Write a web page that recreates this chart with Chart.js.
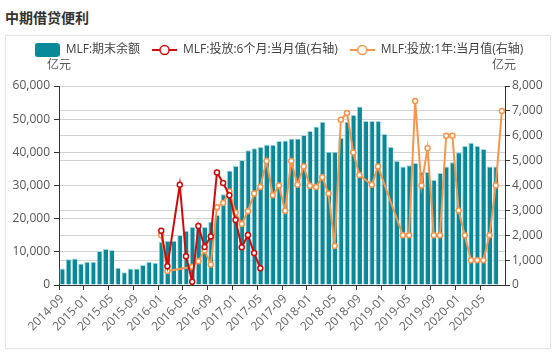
<!DOCTYPE html>
<html><head><meta charset="utf-8">
<script src="https://cdn.jsdelivr.net/npm/chart.js@4.4.1/dist/chart.umd.min.js"></script>
<style>
html,body{margin:0;padding:0;background:#fff;width:558px;height:353px;overflow:hidden;font-family:'Open Sans','Noto Sans CJK SC',sans-serif;}
#title{position:absolute;left:5px;top:9px;font-size:14px;font-weight:bold;color:#333;line-height:16px;font-family:'Noto Sans CJK SC',sans-serif;}
#card{position:absolute;left:5px;top:35px;width:544px;height:312px;border:1px solid #e6e6e6;box-shadow:0 0 2px rgba(0,0,0,0.05);}
.unit{position:absolute;top:56px;width:40px;text-align:center;font-size:12px;color:#555;line-height:16px;font-family:'Noto Sans CJK SC',sans-serif;}
canvas{position:absolute;left:0;top:0;}
</style></head>
<body>
<div id="title">中期借贷便利</div>
<div id="card"></div>
<canvas id="c" width="558" height="353"></canvas>
<div class="unit" style="left:39px">亿元</div>
<div class="unit" style="left:484px">亿元</div>
<script>
const months = [
 '2014-09','2014-10','2014-11','2014-12',
 '2015-01','2015-02','2015-03','2015-04','2015-05','2015-06','2015-07','2015-08','2015-09','2015-10','2015-11','2015-12',
 '2016-01','2016-02','2016-03','2016-04','2016-05','2016-06','2016-07','2016-08','2016-09','2016-10','2016-11','2016-12',
 '2017-01','2017-02','2017-03','2017-04','2017-05','2017-06','2017-07','2017-08','2017-09','2017-10','2017-11','2017-12',
 '2018-01','2018-02','2018-03','2018-04','2018-05','2018-06','2018-07','2018-08','2018-09','2018-10','2018-11','2018-12',
 '2019-01','2019-02','2019-03','2019-04','2019-05','2019-06','2019-07','2019-08','2019-09','2019-10','2019-11','2019-12',
 '2020-01','2020-02','2020-03','2020-04','2020-05','2020-06','2020-07','2020-08'
];
const seriesNames = ['MLF:期末余额','MLF:投放:6个月:当月值(右轴)','MLF:投放:1年:当月值(右轴)'];
const balance = [
 5000,7800,8000,6450,
 7000,7000,10250,10850,10550,5200,3850,5000,5000,6000,7000,6700,
 13050,13350,13350,15050,16350,17500,17500,17500,19100,21100,27350,34550,
 35900,37700,40600,41200,41600,42300,42300,43400,43600,44200,44200,45200,
 46400,47800,49250,40200,40200,44400,49250,51250,53850,49450,49450,49450,
 45550,41600,37400,35700,36100,36800,34050,34050,31650,33750,35700,37000,
 40000,41900,42900,41900,41000,35700,35700,null
];
const mlf6m = [
 null,null,null,null,
 null,null,null,null,null,null,null,null,null,null,null,null,
 2180,750,null,4030,1160,130,2375,1525,1950,4525,4100,3610,
 2615,1515,2010,1285,675,null,null,null,null,null,null,null,
 null,null,null,null,null,null,null,null,null,null,null,null,
 null,null,null,null,null,null,null,null,null,null,null,null,
 null,null,null,null,null,null,null,null
];
const mlf1y = [
 null,null,null,null,
 null,null,null,null,null,null,null,null,null,null,null,null,
 2000,560,null,null,null,730,955,1390,820,3125,3300,3755,
 2905,2455,2960,3675,3940,4985,3605,3995,2985,4985,4030,4765,
 3985,3935,4330,3680,1570,6645,6915,5330,4420,null,4030,4760,
 null,null,null,2000,2000,7400,4000,5500,2000,2000,6000,6000,
 3000,2000,1000,1000,1000,2000,4000,7000
];
const leftTicks = {min:0,max:60000,step:10000};
const rightTicks = {min:0,max:8000,step:1000};

const TEAL='#08899a', RED='#d20a0a', ORANGE='#f7954a';
const FONT="'Open Sans','Noto Sans CJK SC',sans-serif";

function makeIcon(type,color){
  const c=document.createElement('canvas');
  const g=c.getContext('2d');
  if(type==='bar'){
    c.width=25;c.height=14;
    g.fillStyle=color;g.beginPath();
    if(g.roundRect){g.roundRect(0,0,25,14,3);}else{g.rect(0,0,25,14);}
    g.fill();
  }else{
    c.width=25;c.height=12;
    g.strokeStyle=color;g.lineWidth=2;
    g.beginPath();g.moveTo(0,6);g.lineTo(25,6);g.stroke();
    g.beginPath();g.arc(12.5,6,4.5,0,Math.PI*2);g.fillStyle='#fff';g.fill();
    g.lineWidth=1.5;g.stroke();
  }
  return c;
}
const icons=[makeIcon('bar',TEAL),makeIcon('line',RED),makeIcon('line',ORANGE)];

const fmt=v=>Number(v).toLocaleString('en-US');

new Chart(document.getElementById('c'),{
  data:{
    labels:months,
    datasets:[
      {type:'bar',label:seriesNames[0],data:balance,yAxisID:'y',backgroundColor:TEAL,
       borderColor:'#9fd5dc',borderWidth:{left:1,top:1,right:0,bottom:0},borderSkipped:false,
       barPercentage:0.82,categoryPercentage:1.0,order:3},
      {type:'line',label:seriesNames[1],data:mlf6m,yAxisID:'y1',borderColor:RED,borderWidth:2,
       pointRadius:2.5,pointBorderWidth:1.5,pointBackgroundColor:'#fff',pointBorderColor:RED,
       spanGaps:true,tension:0,order:1},
      {type:'line',label:seriesNames[2],data:mlf1y,yAxisID:'y1',borderColor:ORANGE,borderWidth:2,
       pointRadius:2.5,pointBorderWidth:1.5,pointBackgroundColor:'#fff',pointBorderColor:ORANGE,
       spanGaps:true,tension:0,order:2}
    ]
  },
  options:{
    responsive:false,animation:false,devicePixelRatio:1,
    layout:{padding:{top:32,left:0,right:0,bottom:0}},
    plugins:{
      tooltip:{enabled:false},
      legend:{display:true,position:'top',
        labels:{usePointStyle:true,pointStyleWidth:25,padding:12,color:'#444',
          font:{size:12,family:FONT},
          sort:(a,b)=>a.datasetIndex-b.datasetIndex,
          generateLabels:function(chart){
            const items=Chart.defaults.plugins.legend.labels.generateLabels(chart);
            items.forEach(it=>{it.pointStyle=icons[it.datasetIndex];it.fontColor='#444';});
            return items;
          }}},
      subtitle:{display:true,text:' ',position:'top',weight:500,font:{size:10,lineHeight:1},padding:{top:0,bottom:10}}
    },
    scales:{
      x:{type:'category',offset:true,
        grid:{offset:true,drawOnChartArea:false,drawTicks:true,tickLength:5,
          tickColor:(ctx)=> (ctx.index%4===0)?'#333':'rgba(0,0,0,0)'},
        border:{color:'#333',width:1},
        ticks:{autoSkip:false,maxRotation:45,minRotation:45,color:'#666',padding:2,
          font:{size:12,family:FONT},
          callback:function(v,i){return i%4===0?this.getLabelForValue(v):'';}},
        afterFit:(s)=>{s.height=68;}
      },
      y:{position:'left',min:leftTicks.min,max:leftTicks.max,
        grid:{color:'#d2d2d2',tickColor:'#333',tickLength:5},
        border:{color:'#333',width:1},
        ticks:{stepSize:leftTicks.step,color:'#555',padding:4,font:{size:12,family:FONT},callback:fmt},
        afterFit:(s)=>{s.width=59;}
      },
      y1:{position:'right',min:rightTicks.min,max:rightTicks.max,
        grid:{color:'#d2d2d2',tickColor:'#333',tickLength:5,drawOnChartArea:true},
        border:{color:'#333',width:1},
        ticks:{stepSize:rightTicks.step,color:'#555',padding:2,font:{size:12,family:FONT},callback:fmt},
        afterFit:(s)=>{s.width=53;}
      }
    }
  }
});
</script>
</body></html>
